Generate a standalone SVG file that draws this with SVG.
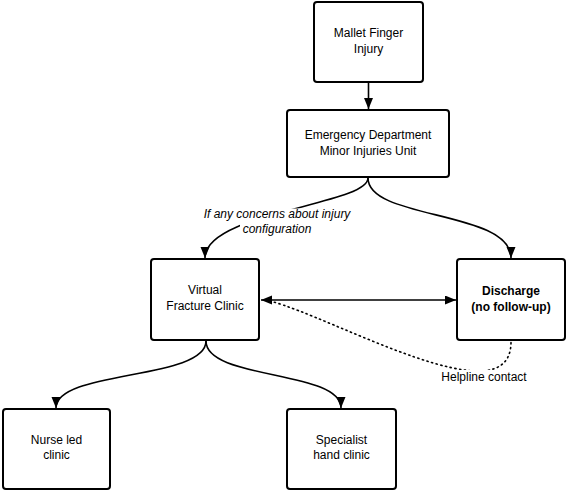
<svg xmlns="http://www.w3.org/2000/svg" width="567" height="492" viewBox="0 0 567 492">
<style>
.box{fill:#fff;stroke:#000;stroke-width:2}
.t{font-family:"Liberation Sans",Arial,sans-serif;font-size:12px;fill:#000;text-anchor:middle}
.b{font-weight:bold}
.i{font-style:italic}
.c{fill:none;stroke:#000;stroke-width:1.6}
.d{fill:none;stroke:#000;stroke-width:1.6;stroke-dasharray:1.2 3.6;stroke-linecap:round}
</style>
<defs>
<marker id="ah" markerUnits="userSpaceOnUse" markerWidth="12" markerHeight="10" refX="11" refY="4.5" orient="auto-start-reverse">
<path d="M0,0 L11,4.5 L0,9 z" fill="#000"/>
</marker>
</defs>
<rect width="567" height="492" fill="#fff"/>
<g id="connectors">
<path class="c" d="M368.5,82 L368.5,109" marker-end="url(#ah)"/>
<path class="c" d="M368,178 C368,205 205,212 205,258" marker-end="url(#ah)"/>
<path class="c" d="M368,178 C368,220 511,210 511,258" marker-end="url(#ah)"/>
<path class="c" d="M261,300 L456,300" marker-start="url(#ah)" marker-end="url(#ah)"/>
<path class="d" d="M270,301 C335,318 511,420 511,342"/>
<path class="c" d="M206,341 C206,380 56,370 56,408" marker-end="url(#ah)"/>
<path class="c" d="M206,341 C206,380 341,370 341,408" marker-end="url(#ah)"/>
<rect x="201" y="208.5" width="152" height="14" fill="#fff"/>
<rect x="240" y="222" width="74" height="15" fill="#fff"/>
<text class="t i" x="277" y="218">If any concerns about injury</text>
<text class="t i" x="277" y="233">configuration</text>
<rect x="440" y="370" width="90" height="16" fill="#fff"/>
<text class="t" x="484" y="381">Helpline contact</text>
</g>
<g id="mallet">
<rect class="box" x="314" y="2" width="109" height="80" rx="3"/>
<text class="t" x="368.5" y="37">Mallet Finger</text>
<text class="t" x="368.5" y="53">Injury</text>
</g>
<g id="ed">
<rect class="box" x="287" y="110" width="162" height="67" rx="3"/>
<text class="t" x="368" y="139">Emergency Department</text>
<text class="t" x="368" y="155">Minor Injuries Unit</text>
</g>
<g id="vfc">
<rect class="box" x="151" y="259" width="108" height="81" rx="3"/>
<text class="t" x="205" y="294">Virtual</text>
<text class="t" x="205" y="310">Fracture Clinic</text>
</g>
<g id="discharge">
<rect class="box" x="457" y="259" width="108" height="81" rx="3"/>
<text class="t b" x="511" y="295">Discharge</text>
<text class="t b" x="511" y="311">(no follow-up)</text>
</g>
<g id="nurse">
<rect class="box" x="3" y="409" width="107" height="80" rx="3"/>
<text class="t" x="56.5" y="444">Nurse led</text>
<text class="t" x="56.5" y="459">clinic</text>
</g>
<g id="specialist">
<rect class="box" x="287" y="409" width="109" height="80" rx="3"/>
<text class="t" x="341.5" y="444">Specialist</text>
<text class="t" x="341.5" y="459">hand clinic</text>
</g>
</svg>
